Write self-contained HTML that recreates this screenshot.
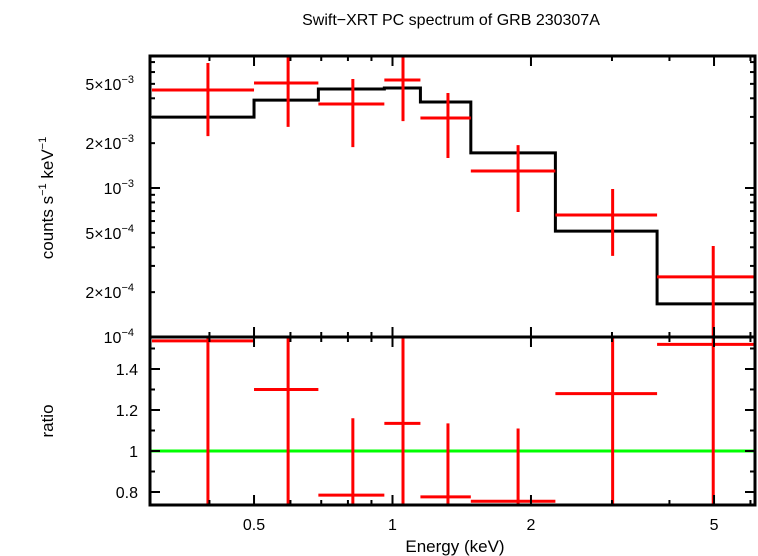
<!DOCTYPE html>
<html><head><meta charset="utf-8"><style>
html,body{margin:0;padding:0;background:#fff;}
svg{display:block;font-family:"Liberation Sans",sans-serif;}
</style></head><body>
<svg id="chart" width="758" height="556" viewBox="0 0 758 556" xmlns="http://www.w3.org/2000/svg">
<text x="451" y="25" font-size="16" text-anchor="middle">Swift−XRT PC spectrum of GRB 230307A</text>
<text transform="translate(53,198) rotate(-90)" font-size="17" text-anchor="middle">counts s<tspan font-size="11" dy="-7">−1</tspan><tspan dy="7"> keV</tspan><tspan font-size="11" dy="-7">−1</tspan></text>
<text transform="translate(53,421) rotate(-90)" font-size="17" text-anchor="middle">ratio</text>
<text x="455" y="552" font-size="17" text-anchor="middle">Energy (keV)</text>
<g id="marks"></g>
</svg>
<script>
const binEdges=[0.3,0.5,0.69,0.96,1.15,1.48,2.26,3.76,6.1];
const binCenters=[0.397,0.593,0.82,1.054,1.32,1.875,3.01,4.98];
const counts=[4.55e-3,5.07e-3,3.66e-3,5.31e-3,2.95e-3,1.30e-3,6.59e-4,2.53e-4];
const countsHi=[6.9e-3,7.57e-3,5.39e-3,7.8e-3,4.34e-3,1.94e-3,9.85e-4,4.08e-4];
const countsLo=[2.23e-3,2.57e-3,1.88e-3,2.81e-3,1.59e-3,6.9e-4,3.5e-4,0.9e-4];
const model=[2.99e-3,3.89e-3,4.62e-3,4.69e-3,3.78e-3,1.72e-3,5.14e-4,1.67e-4];
const ratio=[1.537,1.30,0.785,1.135,0.776,0.755,1.28,1.52];
const ratioHi=[2.0,2.0,1.16,2.0,1.135,1.11,2.0,2.0];
const ratioLo=[0.5,0.5,0.5,0.5,0.5,0.5,0.5,0.5];
const xTickLabels=[0.5,1,2,5];
const yTopLabels=[[5e-3,"5×10","−3"],[2e-3,"2×10","−3"],[1e-3,"10","−3"],[5e-4,"5×10","−4"],[2e-4,"2×10","−4"],[1e-4,"10","−4"]];
const yRatioLabels=[0.8,1,1.2,1.4];

const L=150,R=755,T=56,M=337,B=505;
const X=e=>392.5+460*Math.log10(e);
const YT=v=>188-149*(Math.log10(v)+3);
const YR=r=>451-205*(r-1);
const clampT=y=>Math.min(M,Math.max(T,y));
const clampR=y=>Math.min(B,Math.max(M,y));
const NS="http://www.w3.org/2000/svg";
const g=document.getElementById('marks');
function line(x1,y1,x2,y2,c,w,name){const l=document.createElementNS(NS,'line');
l.setAttribute('x1',x1);l.setAttribute('y1',y1);l.setAttribute('x2',x2);l.setAttribute('y2',y2);
l.setAttribute('stroke',c);l.setAttribute('stroke-width',w);


g.appendChild(l);return l;}
function text(x,y,s,anchor,name){const t=document.createElementNS(NS,'text');
t.setAttribute('x',x);t.setAttribute('y',y);t.setAttribute('font-size','16');t.setAttribute('text-anchor',anchor);
t.textContent=s;


g.appendChild(t);return t;}

line(L,YR(1),R,YR(1),'#00ff00',3,'unity-line');

let d='';
for(let i=0;i<model.length;i++){const x1=Math.max(L,X(binEdges[i])),x2=Math.min(R,X(binEdges[i+1])),y=YT(model[i]);
d+=(i===0?'M':'L')+x1+' '+y+' L'+x2+' '+y+' ';}
const p=document.createElementNS(NS,'path');p.setAttribute('d',d);p.setAttribute('fill','none');p.setAttribute('stroke','#000');p.setAttribute('stroke-width','3');


g.appendChild(p);

for(let i=0;i<counts.length;i++){
 const x1=Math.max(L,X(binEdges[i])),x2=Math.min(R,X(binEdges[i+1])),xc=X(binCenters[i]);
 line(x1,YT(counts[i]),x2,YT(counts[i]),'#ff0000',3,'data-bin-'+(i+1)+'-xerr');
 line(xc,clampT(YT(countsHi[i])),xc,clampT(YT(countsLo[i])),'#ff0000',3,'data-bin-'+(i+1)+'-yerr');
 line(x1,clampR(YR(ratio[i])),x2,clampR(YR(ratio[i])),'#ff0000',3,'ratio-bin-'+(i+1)+'-xerr');
 line(xc,clampR(YR(ratioHi[i])),xc,clampR(YR(ratioLo[i])),'#ff0000',3,'ratio-bin-'+(i+1)+'-yerr');
}

[[T,M,'top-panel-frame'],[M,B,'ratio-panel-frame']].forEach(([a,b,n])=>{const r=document.createElementNS(NS,'rect');
r.setAttribute('x',L);r.setAttribute('y',a);r.setAttribute('width',R-L);r.setAttribute('height',b-a);
r.setAttribute('fill','none');r.setAttribute('stroke','#000');r.setAttribute('stroke-width','3');


g.appendChild(r);});

const minorX=[0.3,0.4,0.6,0.7,0.8,0.9,3,4,6];
[[T,1],[M,-1],[M,1],[B,-1]].forEach(([y,s])=>{
 xTickLabels.forEach(v=>line(X(v),y,X(v),y+s*10,'#000',2,'x-major-tick'));
 minorX.forEach(v=>{if(X(v)>L+2&&X(v)<R-2)line(X(v),y,X(v),y+s*5,'#000',2,'x-minor-tick');});
});
xTickLabels.forEach(v=>text(X(v),530,String(v),'middle','x-tick-label'));

for(let e=-4;e<=-3;e++)for(let m=1;m<=9;m++){const v=m*Math.pow(10,e),y=YT(v);if(y<T||y>M)continue;
 const len=(m===1)?10:5;line(L,y,L+len,y,'#000',2,'y-tick');line(R,y,R-len,y,'#000',2,'y-tick');}
yTopLabels.forEach(([v,a,b])=>{const t=text(134,YT(v)+6,'','end','y-tick-label');
 t.textContent=a;const ts=document.createElementNS(NS,'tspan');ts.setAttribute('font-size','11');ts.setAttribute('dy','-7');ts.textContent=b;t.appendChild(ts);});

for(let r=0.8;r<=1.55;r+=0.1){const y=YR(r);const major=Math.abs(Math.round(r*10)%2)===0;const len=major?10:5;
 line(L,y,L+len,y,'#000',2,'ratio-tick');line(R,y,R-len,y,'#000',2,'ratio-tick');}
yRatioLabels.forEach(v=>text(138,YR(v)+6,String(v),'end','ratio-tick-label'));
</script>
</body></html>
